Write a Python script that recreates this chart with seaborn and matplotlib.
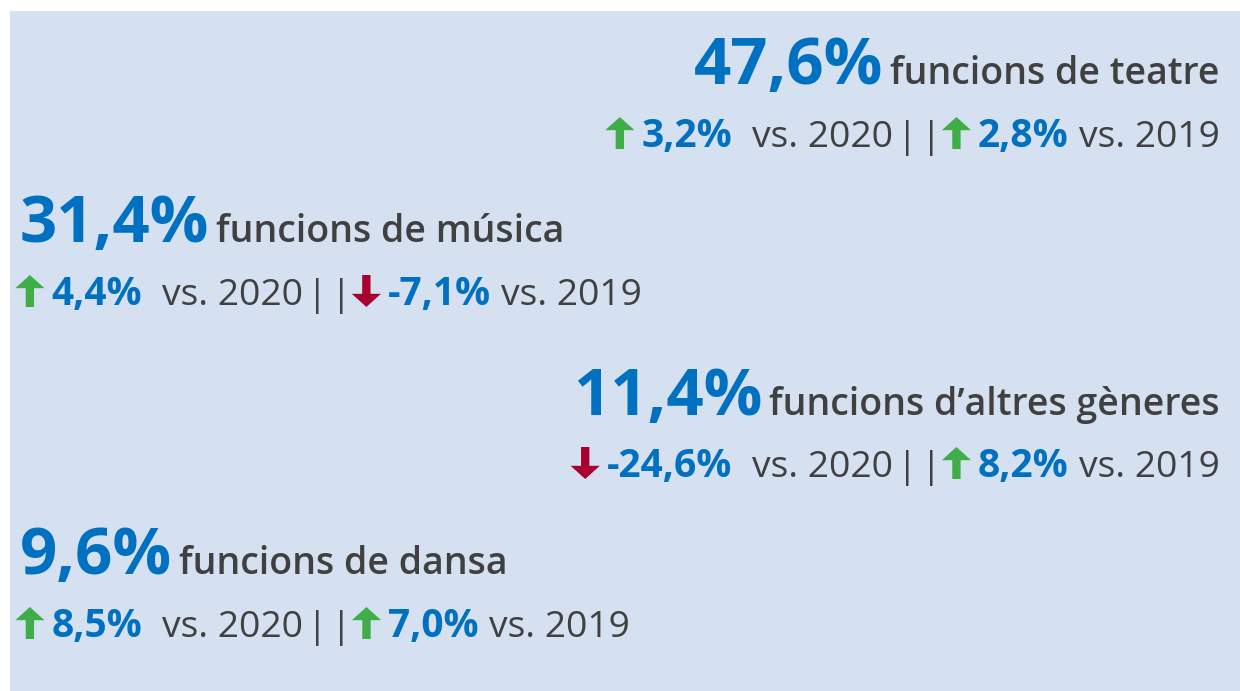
import matplotlib
matplotlib.use("Agg")
import matplotlib.pyplot as plt
import seaborn as sns

# ----------------------------
# Data
# ----------------------------
shares = [47.6, 31.4, 11.4, 9.6]
labels = ["funcions de teatre", "funcions de música",
          "funcions d\u2019altres gèneres", "funcions de dansa"]
change_2020 = [3.2, 4.4, -24.6, 8.5]
change_2019 = [2.8, -7.1, 8.2, 7.0]
sides = ["right", "left", "right", "left"]

BG = "#D5E0F1"
BLUE = "#0070C0"
GREY = "#404040"
GREEN = "#3FAE49"
RED = "#A8002F"

sns.set_theme(style="white")
plt.rcParams["font.family"] = ["Open Sans", "DejaVu Sans"]

TXT = ["Open Sans", "DejaVu Sans"]
SPACER = "ARROW"


def fmt(v):
    return f"{v:.1f}".replace(".", ",") + "%"


def draw_arrow(ax, spacer, y, up, color):
    # tip / tail in pixel-like data coords, x centred on the spacer box
    top, bottom = y - 30, y + 2
    tip, tail = (top, bottom) if up else (bottom, top)
    ax.annotate("", xy=(0.5, tip), xycoords=(spacer, "data"),
                xytext=(0.5, tail), textcoords=(spacer, "data"),
                arrowprops=dict(arrowstyle="simple,head_length=0.95,head_width=2.1,tail_width=0.6",
                                mutation_scale=10, color=color, lw=0,
                                shrinkA=0, shrinkB=0))


def draw_row(ax, segments, y, side, x):
    """segments: list of (text, color, size, weight, gap_before_pt)."""
    made = []
    order = segments if side == "left" else list(reversed(segments))
    prev = None
    gap_next = 0
    for text, color, size, weight, gap in order:
        is_arrow = text == SPACER
        kw = dict(color=(0, 0, 0, 0) if is_arrow else color,
                  fontsize=20 if is_arrow else size, fontweight=weight,
                  va="baseline", ha=side,
                  family=["DejaVu Sans"] if is_arrow else TXT)
        label = "\u2003" if is_arrow else text
        if prev is None:
            prev = ax.text(x, y, label, **kw)
        elif side == "left":
            prev = ax.annotate(label, xy=(1, y), xycoords=(prev, "data"),
                               xytext=(gap, 0), textcoords="offset points", **kw)
        else:
            prev = ax.annotate(label, xy=(0, y), xycoords=(prev, "data"),
                               xytext=(-gap_next, 0), textcoords="offset points", **kw)
        gap_next = gap
        if is_arrow:
            made.append((prev, color))
    return made


fig = plt.figure(figsize=(12.4, 6.91), dpi=100)
fig.patch.set_facecolor("white")
ax = fig.add_axes([10 / 1240, 0, 1230 / 1240, 680 / 691])
ax.set_facecolor(BG)
ax.set_xlim(10, 1240)
ax.set_ylim(691, 11)
ax.set_xticks([])
ax.set_yticks([])
for s in ax.spines.values():
    s.set_visible(False)

big_base = [84, 242, 415, 574]
sub_base = [147, 305, 477, 637]
BIG, LAB, SUB, PCT = 47, 27, 26.8, 28

for i in range(len(shares)):
    x = 1220 if sides[i] == "right" else 20
    head = [
        (fmt(shares[i]), BLUE, BIG, "bold", 0),
        (labels[i], GREY, LAB, "semibold", 5),
    ]
    c1 = GREEN if change_2020[i] >= 0 else RED
    c2 = GREEN if change_2019[i] >= 0 else RED
    sub = [
        (SPACER, c1, SUB, "normal", 0),
        (fmt(change_2020[i]), BLUE, PCT, "bold", 5.5),
        ("vs. 2020", GREY, SUB, "normal", 14.5),
        ("|", GREY, SUB, "normal", 3),
        ("|", GREY, SUB, "normal", 2),
        (SPACER, c2, SUB, "normal", 1),
        (fmt(change_2019[i]), BLUE, PCT, "bold", 5.5),
        ("vs. 2019", GREY, SUB, "normal", 7.5),
    ]
    draw_row(ax, head, big_base[i], sides[i], x)
    arrows = draw_row(ax, sub, sub_base[i], sides[i], x if sides[i] == "right" else 16)
    if sides[i] == "right":
        arrows = list(reversed(arrows))
    for (sp, col), val in zip(arrows, [change_2020[i], change_2019[i]]):
        draw_arrow(ax, sp, sub_base[i], val >= 0, col)

fig.savefig("out.png", dpi=100, facecolor=fig.get_facecolor())
